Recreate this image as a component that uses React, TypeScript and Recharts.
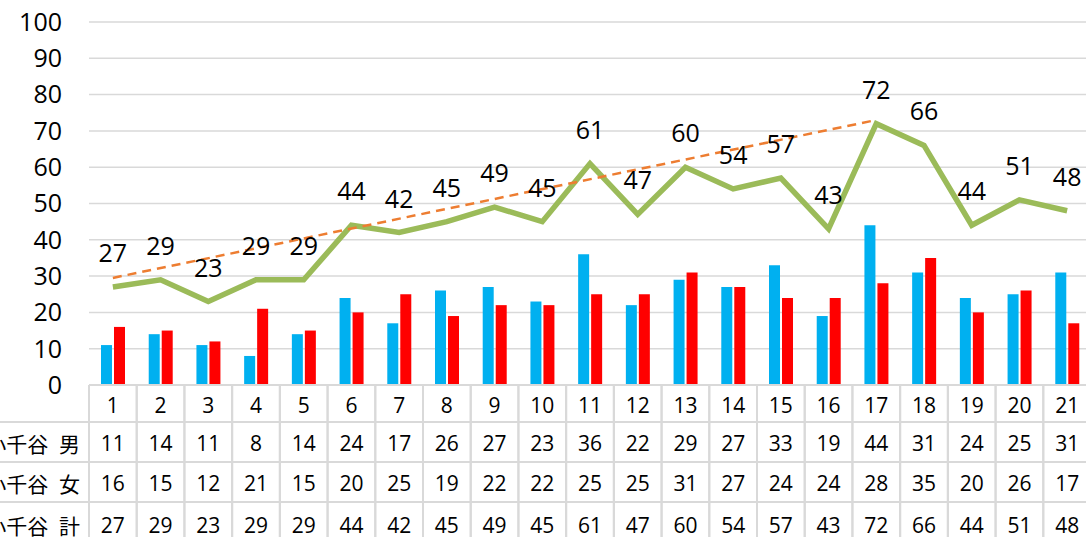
import { ComposedChart, Bar, Line, XAxis, YAxis, CartesianGrid, LabelList } from "recharts";

const categories = ["1","2","3","4","5","6","7","8","9","10","11","12","13","14","15","16","17","18","19","20","21"];
const male = [11,14,11,8,14,24,17,26,27,23,36,22,29,27,33,19,44,31,24,25,31];
const female = [16,15,12,21,15,20,25,19,22,22,25,25,31,27,24,24,28,35,20,26,17];
const total = [27,29,23,29,29,44,42,45,49,45,61,47,60,54,57,43,72,66,44,51,48];
// hand-drawn trend: only the two end points, joined
const trend: (number|null)[] = [29.5,null,null,null,null,null,null,null,null,null,null,null,null,null,null,null,73,null,null,null,null];
const rowLabels = ["小千谷 男","小千谷 女","小千谷 計"];
const yTicks = [0,10,20,30,40,50,60,70,80,90,100];

const data = categories.map((c,i)=>({cat:c, male:male[i], female:female[i], total:total[i], trend:trend[i]}));

const W=1091, H=537, YW=89, TABLE_H=152;
const BW=(W-YW)/categories.length;
const GRID="#d9d9d9";
const FONT="'Open Sans', 'Noto Sans', sans-serif";
const CJK="'Noto Sans CJK JP', sans-serif";
// row boundaries below the axis line
const ROWS=[0,37,77,117,160];

const TableTick=(props:any)=>{
  const {x,y,payload}=props;
  const i=payload.index;
  const l=x-BW/2, r=x+BW/2;
  const vals=[categories[i], male[i], female[i], total[i]];
  return (
    <g>
      <line x1={l} x2={l} y1={y} y2={H} stroke={GRID} strokeWidth={2}/>
      <line x1={r} x2={r} y1={y} y2={H} stroke={GRID} strokeWidth={2}/>
      {ROWS.slice(1,4).map(o=><line key={o} x1={l} x2={r} y1={y+o} y2={y+o} stroke={GRID} strokeWidth={2}/>)}
      {vals.map((v,k)=>(
        <text key={k} x={x} y={y+(ROWS[k]+ROWS[k+1])/2+1} textAnchor="middle" dominantBaseline="central"
          fontSize={21} fontFamily={FONT} fill="#000">{v}</text>
      ))}
      {i===0 && (
        <g>
          {ROWS.slice(1,4).map(o=><line key={o} x1={0} x2={l} y1={y+o} y2={y+o} stroke={GRID} strokeWidth={2}/>)}
          {rowLabels.map((t,k)=>(
            <text key={t} x={l-9} y={y+(ROWS[k+1]+ROWS[k+2])/2+1} textAnchor="end" dominantBaseline="central"
              fontSize={21} fontFamily={CJK} fill="#000" wordSpacing={6}>{t}</text>
          ))}
        </g>
      )}
    </g>
  );
};

export default function App(){
  return (
    <div style={{position:"absolute",left:0,top:0,width:1086,height:537,overflow:"hidden",background:"#fff"}}>
      <ComposedChart width={W} height={H} data={data} margin={{top:22,right:0,bottom:0,left:0}} barSize={11} barGap={2}>
        <CartesianGrid vertical={false} stroke={GRID} strokeWidth={1.5}/>
        <XAxis dataKey="cat" height={TABLE_H} interval={0} tickLine={false} tickSize={0} tickMargin={0}
          axisLine={{stroke:GRID,strokeWidth:2}} tick={<TableTick/>}/>
        <YAxis width={YW} domain={[0,100]} ticks={yTicks} axisLine={false} tickLine={false} tickSize={0} tickMargin={27}
          tick={{fontSize:25,fill:"#000",fontFamily:FONT}}/>
        <Bar dataKey="male" fill="#00b0f0" isAnimationActive={false}/>
        <Bar dataKey="female" fill="#ff0000" isAnimationActive={false}/>
        <Line dataKey="total" stroke="#9bbb59" strokeWidth={5.5} dot={false} isAnimationActive={false}>
          <LabelList dataKey="total" position="top" offset={25} fontSize={25} fill="#000" fontFamily={FONT}/>
        </Line>
        <Line dataKey="trend" connectNulls stroke="#ed7d31" strokeWidth={2.5} strokeDasharray="9 6" dot={false} isAnimationActive={false}/>
      </ComposedChart>
    </div>
  );
}
